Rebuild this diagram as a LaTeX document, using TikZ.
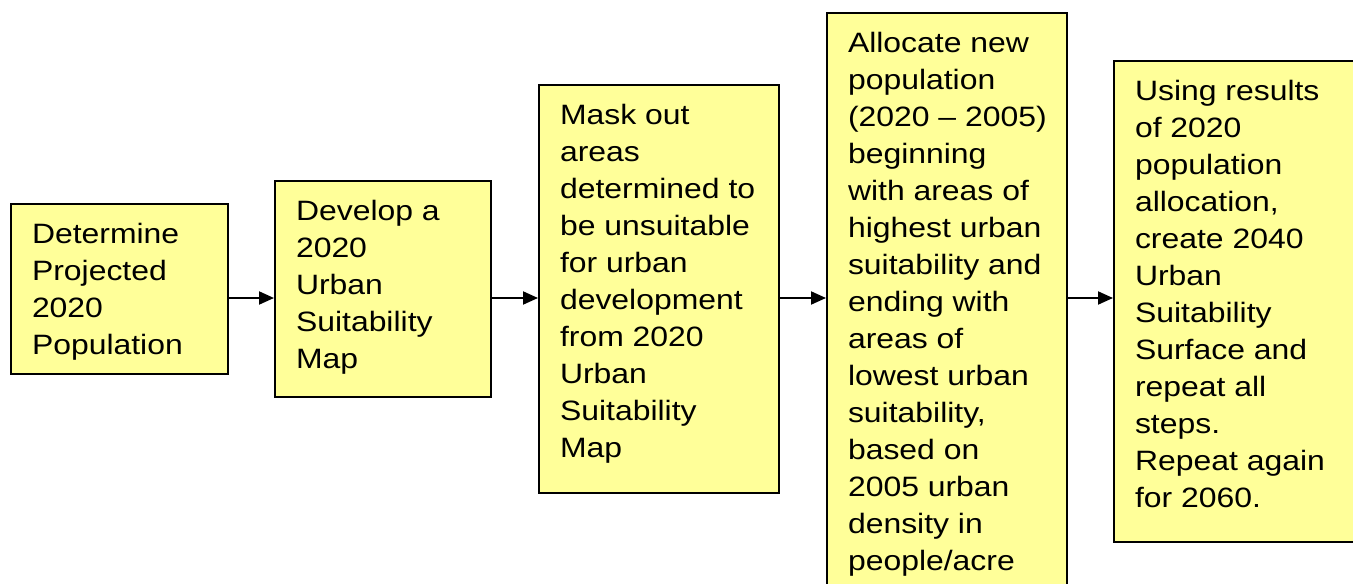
\documentclass[tikz,border=0pt]{standalone}
\usepackage{fontspec}
\setmainfont[FakeStretch=1.14]{Liberation Sans}
\usetikzlibrary{arrows.meta}
\definecolor{paleyel}{RGB}{255,255,153}
\newcommand{\blotxt}[3]{\parbox[c][#2][t]{#1}{\leftskip=10.5pt\rightskip=0pt plus 1fil\relax\rule{0pt}{19.7pt}#3}}
\tikzset{%
    blo/.style={rectangle, draw, line width=1pt, fill=paleyel, inner sep=0pt, anchor=north west, font=\fontsize{14}{18.5}\selectfont},
    pria/.style={line width = 1pt, -{Triangle[length=7.5pt,width=6.5pt]}},
}

\begin{document}
\begin{tikzpicture}[x=0.5pt,y=-0.5pt]
    \useasboundingbox (0,0) rectangle (1353,583);
    \node[blo] (pop) at (10,203) {\blotxt{108.5pt}{85pt}{Determine\\Projected\\2020\\Population}};
    \node[blo] (suit) at (274,180) {\blotxt{108pt}{108pt}{Develop a\\2020\\Urban\\Suitability\\Map}};
    \node[blo] (mask) at (538,84) {\blotxt{120pt}{204pt}{Mask out\\areas\\determined to\\be unsuitable\\for urban\\development\\from 2020\\Urban\\Suitability\\Map}};
    \node[blo] (alloc) at (826,12) {\blotxt{120pt}{300pt}{Allocate new\\population\\(2020 – 2005)\\beginning\\with areas of\\highest urban\\suitability and\\ending with\\areas of\\lowest urban\\suitability,\\based on\\2005 urban\\density in\\people/acre}};
    \node[blo] (rep) at (1113,60) {\blotxt{120.5pt}{240.5pt}{Using results\\of 2020\\population\\allocation,\\create 2040\\Urban\\Suitability\\Surface and\\repeat all\\steps.\\Repeat again\\for 2060.}};
    \coordinate (lvl) at (0,298);
    \draw [pria] (pop.east |- lvl) -- (suit.west |- lvl);
    \draw [pria] (suit.east |- lvl) -- (mask.west |- lvl);
    \draw [pria] (mask.east |- lvl) -- (alloc.west |- lvl);
    \draw [pria] (alloc.east |- lvl) -- (rep.west |- lvl);
\end{tikzpicture}
\end{document}
